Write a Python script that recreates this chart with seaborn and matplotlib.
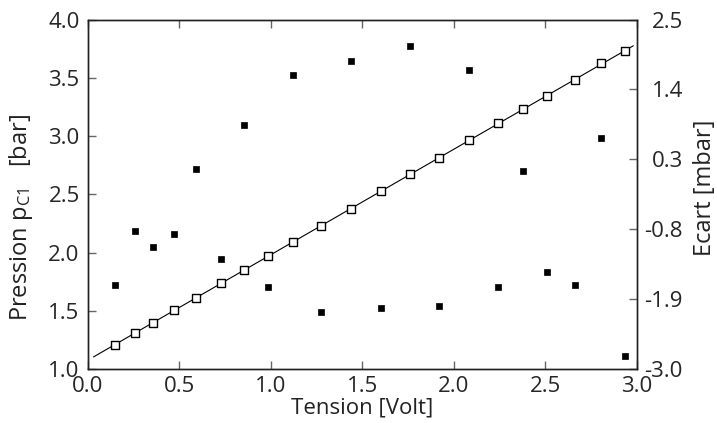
import numpy as np
import pandas as pd
import matplotlib
matplotlib.use('Agg')
import matplotlib.pyplot as plt
import seaborn as sns

# données
tension = [0.148, 0.255, 0.357, 0.472, 0.589, 0.727, 0.852, 0.985, 1.119, 1.273,
           1.439, 1.601, 1.760, 1.916, 2.082, 2.242, 2.379, 2.507, 2.663, 2.802, 2.933]
pression = [1.213, 1.310, 1.401, 1.510, 1.613, 1.741, 1.850, 1.973, 2.090, 2.233,
            2.378, 2.527, 2.673, 2.813, 2.965, 3.110, 3.230, 3.344, 3.481, 3.624, 3.730]
ecart = [-1.68, -0.82, -1.08, -0.87, 0.15, -1.27, 0.84, -1.71, 1.63, -2.09,
         1.84, -2.04, 2.08, -2.00, 1.71, -1.70, 0.12, -1.47, -1.68, 0.64, -2.79]
ecart_ticks = [-3.0, -1.9, -0.8, 0.3, 1.4, 2.5]

df = pd.DataFrame({'tension': tension, 'pression': pression, 'ecart': ecart})

# droite d'ajustement
pente, origine = np.polyfit(df['tension'], df['pression'], 1)
fit = pd.DataFrame({'x': [0.03, 2.98]})
fit['y'] = origine + pente * fit['x']

sns.set_style('ticks')
plt.rcParams['font.family'] = ['Open Sans', 'DejaVu Sans']
plt.rcParams['mathtext.fontset'] = 'custom'
plt.rcParams['mathtext.rm'] = 'Open Sans'
plt.rcParams['mathtext.it'] = 'Open Sans'
plt.rcParams['axes.unicode_minus'] = False
plt.rcParams['text.color'] = '#222222'
plt.rcParams['axes.labelcolor'] = '#222222'

fig = plt.figure(figsize=(7.17, 4.23), dpi=100)
ax = fig.add_axes([0.1227, 0.1265, 0.7657, 0.8274])

sns.lineplot(x='x', y='y', data=fit, color='black', linewidth=0.8, ax=ax, zorder=2)
sns.scatterplot(x='tension', y='pression', data=df, marker='s', s=26,
                facecolor='white', edgecolor='black', linewidth=1.0, ax=ax, zorder=3)

ax2 = ax.twinx()
sns.scatterplot(x='tension', y='ecart', data=df, marker='s', s=24,
                color='black', edgecolor='black', linewidth=0.5, ax=ax2, zorder=3)

fmt = matplotlib.ticker.FormatStrFormatter('%.1f')
ax.set_xlim(0, 3.0)
ax.set_ylim(1.0, 4.0)
ax.set_xticks(np.arange(0, 3.01, 0.5))
ax.set_yticks(np.arange(1.0, 4.01, 0.5))
ax.xaxis.set_major_formatter(fmt)
ax.yaxis.set_major_formatter(fmt)
ax2.set_ylim(-3.0, 2.5)
ax2.set_yticks(ecart_ticks)
ax2.yaxis.set_major_formatter(fmt)

ax.set_xlabel('Tension [Volt]', fontsize=16, labelpad=0)
ax.set_ylabel(r'Pression p$_{\mathrm{C1}}$   [bar]', fontsize=17)
ax.yaxis.set_label_coords(-0.097, 0.435)
ax2.set_ylabel('Ecart [mbar]', fontsize=17)
ax2.yaxis.set_label_coords(1.102, 0.518)

for a in (ax, ax2):
    for s in a.spines.values():
        s.set_visible(True)
        s.set_color('#222222')
        s.set_linewidth(1.0)
ax.tick_params(axis='both', direction='in', length=6, width=1, color='#666666',
               labelsize=16, top=True, pad=5)
ax.tick_params(axis='y', right=False, pad=6)
ax2.tick_params(axis='y', direction='in', length=6, width=1, color='#666666',
                labelsize=16, pad=33)
for lab in ax2.get_yticklabels():
    lab.set_horizontalalignment('right')

plt.savefig('out.png', dpi=100)
